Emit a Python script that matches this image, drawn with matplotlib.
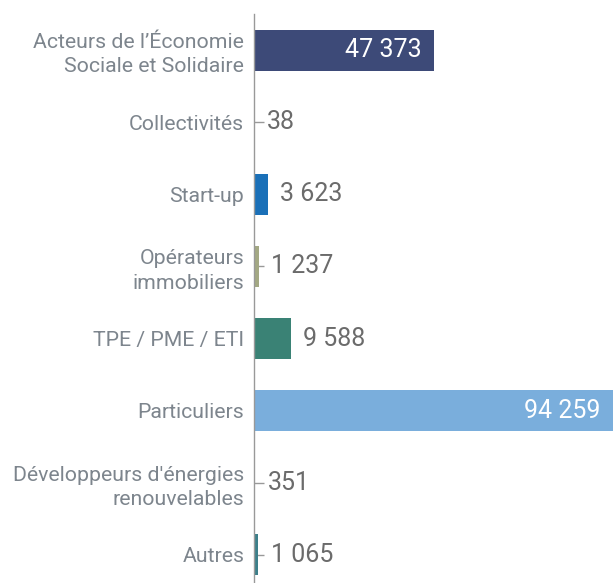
import matplotlib
matplotlib.use("Agg")
import matplotlib.pyplot as plt
import numpy as np

categories = [
    "Acteurs de l\u2019\u00c9conomie\nSociale et Solidaire",
    "Collectivit\u00e9s",
    "Start-up",
    "Op\u00e9rateurs\nimmobiliers",
    "TPE / PME / ETI",
    "Particuliers",
    "D\u00e9veloppeurs d'\u00e9nergies\nrenouvelables",
    "Autres",
]
values = [47373, 38, 3623, 1237, 9588, 94259, 351, 1065]
colors = ["#3d4a78", "#1f6fb4", "#1a70b8", "#a3a883", "#3a8275", "#7aaedc", "#8c5a7e", "#3c7f8a"]

plt.rcParams["font.family"] = ["Roboto", "DejaVu Sans"]

fig = plt.figure(figsize=(6.13, 5.83), dpi=100)
ax = fig.add_axes([254 / 613, -8 / 583, 1 - 254 / 613, 577 / 583])

y = np.arange(len(values))
ax.barh(y, values, height=0.57, color=colors, zorder=2)
ax.set_xlim(0, max(values))
ax.set_ylim(len(values) - 0.5, -0.5)

ax.set_yticks(y)
ax.set_yticklabels(categories, fontsize=15.3, color="#7d858d", linespacing=1.35)
ax.tick_params(axis="y", direction="in", length=7, width=1, color="#999999", pad=7)
ax.set_axisbelow(True)
ax.set_xticks([])
for side in ["top", "right", "bottom"]:
    ax.spines[side].set_visible(False)
ax.spines["left"].set_color("#999999")
ax.spines["left"].set_linewidth(1)
ax.spines["left"].set_zorder(3)

def fmt(v):
    return f"{v:,}".replace(",", " ")

for yi, v in zip(y, values):
    if v > 40000:
        ax.annotate(fmt(v), (v, yi), xytext=(-9, 0), textcoords="offset points",
                    ha="right", va="center", fontsize=18, color="white")
    else:
        ax.annotate(fmt(v), (v, yi), xytext=(9, 0), textcoords="offset points",
                    ha="left", va="center", fontsize=18, color="#6b6b6b")

fig.savefig("out.png", dpi=100)
